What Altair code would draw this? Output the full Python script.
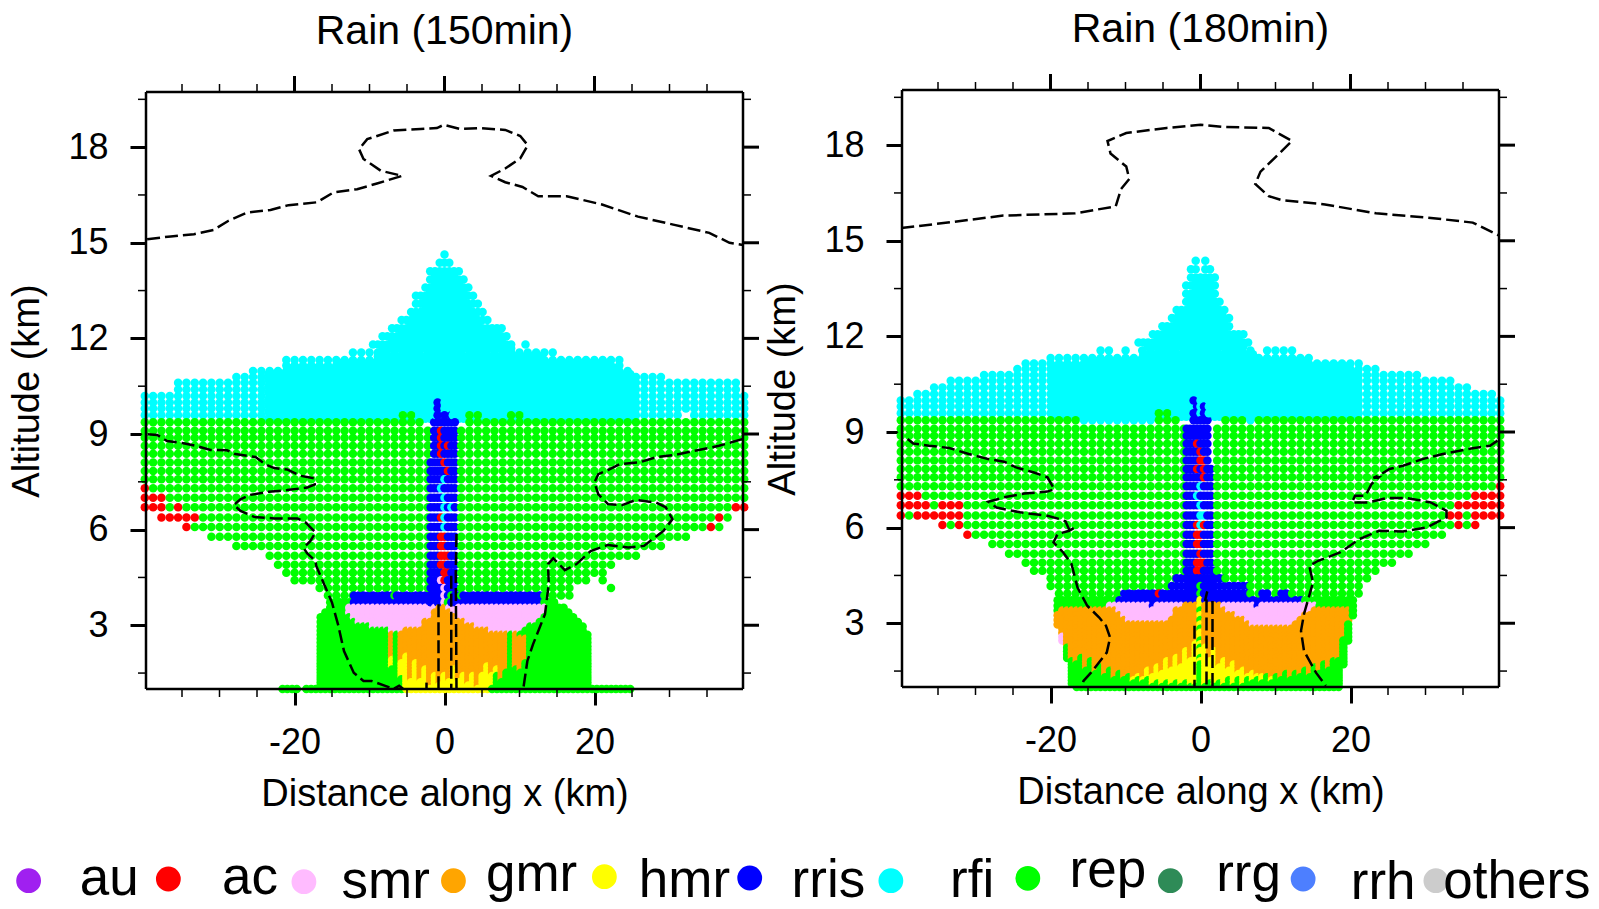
import altair as alt
import pandas as pd

alt.data_transformers.disable_max_rows()

FONT = "Liberation Sans"
NAMES = ["au", "ac", "smr", "gmr", "hmr", "rris", "rfi", "rep", "rrg", "rrh", "others"]
COLORS = ["#a020f0", "#ff0000", "#ffbbff", "#ffa500", "#ffff00", "#0000ff", "#00ffff", "#00ff00", "#2e8b57", "#4d7fff", "#cccccc"]
LEGEND_SLOT = [0, 1.0, 1.97, 3.04, 4.12, 5.16, 6.17, 7.15, 8.17, 9.12, 10.07]
LEGEND_RISE = [19.3, 21, 18.3, 19.3, 23.3, 22, 19.3, 21.7, 19.3, 21, 19.3]
LABEL_SLOT = [0.577, 1.584, 2.555, 3.599, 4.693, 5.723, 6.752, 7.723, 8.73, 9.693, 10.65]
LABEL_RISE = [5.3, 6, 2, 9.3, 2.7, 2.7, 3, 12.7, 9.3, 1, 2]

HALF = [0.64, 1.27, 1.91, 2.54, 3.18, 3.81, 4.45, 5.08, 5.72, 6.35, 6.99, 7.62, 8.26, 8.89, 9.53, 10.16, 10.80, 11.43,
        12.07, 12.70, 13.34, 13.97, 14.61, 15.24, 15.88, 16.51, 17.15, 17.78, 18.42, 19.05, 19.69, 20.32, 20.96, 21.59,
        22.23, 22.86, 23.50, 24.13, 24.77, 25.40, 26.04, 26.67, 27.31, 27.94, 28.58, 29.21, 29.85, 30.48, 31.12, 31.75,
        32.39, 33.02, 33.66, 34.29, 34.93, 35.56, 36.20, 36.83, 37.47, 38.10, 38.74, 39.37, 40.0]
COLUMNS = [-c for c in reversed(HALF)] + [0.0] + HALF
WIDE_HALF = [1.11, 2.22, 3.33, 4.44, 5.55, 6.66, 7.77, 8.88, 9.99, 11.10, 12.21, 13.32, 14.43, 15.54, 16.65, 17.76, 18.87, 19.98,
             21.09, 22.20, 23.31, 24.42, 25.53, 26.64, 27.75, 28.86, 29.97, 31.08, 32.19, 33.30, 34.41, 35.52, 36.63, 37.74, 38.85, 39.96]
WIDE_COLUMNS = [-c for c in reversed(WIDE_HALF)] + [0.0] + WIDE_HALF
LOW_LEVELS = [3.72, 3.55, 3.40, 3.25, 3.10, 2.96, 2.83, 2.70, 2.58, 2.46, 2.34, 2.23, 2.12, 2.01, 1.91, 1.81, 1.71, 1.61,
              1.51, 1.41, 1.31, 1.21, 1.11, 1.00]

# ---- rows: level, then (left, right) runs in km ----
A_CYAN = [(14.63, [(0, 0)]), (14.37, [(-.64, .64)]), (14.11, [(-1.6, 2.1)]), (13.85, [(-2.0, 2.6)]), (13.60, [(-2.5, 3.2)]),
          (13.34, [(-3.5, 3.6)]), (13.09, [(-3.5, 4.3)]), (12.83, [(-4.6, 4.8)]), (12.58, [(-5.6, 5.5)]),
          (12.32, [(-6.7, 7.4)]), (12.07, [(-8.0, 8.1)]), (11.81, [(-9.6, 9.0), (11.1, 11.1)]),
          (11.56, [(-12.2, -11.0), (-9.7, 14.5)]), (11.32, [(-21.5, -15.5), (-14.5, 23.0)]), (11.15, [(-21.5, 23.6)]),
          (10.98, [(-25.2, 25.1)]), (10.79, [(-28.0, 29.0)]), (10.61, [(-35.4, 38.7)]), (10.40, [(-35.4, 39.0)]),
          (10.19, [(-40, 40)]), (9.99, [(-40, 40)]), (9.80, [(-40, 40)]), (9.59, [(-40, 31.5), (33.0, 40)])]
A_CORE = [(9.48, -24, 25.5), (9.70, -24, 25.5), (9.90, -24, 25.5), (10.09, -24, 25.5), (10.30, -24, 25.5), (10.50, -24, 25.5),
          (10.70, -24, 25.5), (10.88, -24, 25), (11.07, -21, 23), (11.23, -14, 22), (11.44, -9.5, 13), (11.68, -8.5, 9),
          (11.94, -7.5, 8), (12.20, -6, 7), (12.45, -5, 5), (12.70, -4, 4.3), (12.96, -3, 3.8), (13.22, -3, 3),
          (13.47, -2.2, 2.6), (13.72, -1.8, 2.2), (13.98, -1.3, 1.8)]
A_GREEN = [(9.59, [(-6.0, -4.2), (3.4, 5.0), (9.2, 9.7)]), (9.37, [(-40, -3.2), (3.2, 40)]), (9.10, [(-40, 40)]), (8.88, [(-40, 40)]),
           (8.63, [(-40, 40)]), (8.38, [(-40, 40)]), (8.11, [(-40, 40)]), (7.84, [(-40, 40)]), (7.58, [(-40, 40)]),
           (7.30, [(-40, 40)]), (7.00, [(-40, 40)]), (6.70, [(-40, 40)]), (6.38, [(-37.8, 38.4)]), (6.08, [(-34.2, 36.3)]),
           (5.78, [(-30.9, 32.1)]), (5.49, [(-27.9, 28.9)]), (5.18, [(-24.0, 26.0)]), (4.90, [(-22.3, 22.3)]),
           (4.65, [(-21.4, -21.4), (-19.7, 21.3)]), (4.41, [(-19.7, 18.9), (21.3, 21.3)]), (4.17, [(-16.6, 16.6), (22.2, 22.2)]),
           (3.93, [(-15.5, 16.6)]), (3.72, [(-15.2, 14.7)]), (3.55, [(-15.5, 16.0)]), (3.40, [(-15.9, 16.5)]), (3.25, [(-16.2, 17.0)]),
           (3.10, [(-16.8, 18.0)]), (2.96, [(-16.8, 18.3)]), (2.83, [(-16.8, 18.6)]), (2.70, [(-16.8, 19.0)]), (2.58, [(-16.7, 19.2)]),
           (2.46, [(-16.7, 19.2)]), (2.34, [(-16.7, 19.2)]), (2.23, [(-16.7, 19.2)]), (2.12, [(-16.7, 19.2)]), (2.01, [(-16.7, 19.2)]),
           (1.91, [(-16.7, 19.2)]), (1.81, [(-16.7, 19.2)]), (1.71, [(-16.7, 19.2)]), (1.61, [(-16.7, 19.2)]), (1.51, [(-16.7, 19.2)]),
           (1.41, [(-16.7, 19.2)]), (1.31, [(-16.7, 19.2)]), (1.21, [(-16.7, 19.2)]), (1.11, [(-16.7, 19.2)]),
           (1.00, [(-21.8, -19.6), (-18.3, 24.5)])]
A_RED = [(7.30, -39.8), (7.00, -39.96), (7.00, -38.85), (7.00, -37.74), (6.70, -39.96), (6.70, -38.85), (6.70, -37.74), (6.70, -35.52),
         (6.38, -37.74), (6.38, -36.63), (6.38, -35.52), (6.38, -34.41), (6.38, -33.3), (6.08, -34.41), (6.70, 38.85), (6.70, 39.96),
         (6.38, 36.63), (6.08, 35.52)]
A_BLUE = [(3.93, -12.1, -6.8), (3.93, -6.2, -1.0), (3.93, 2.8, 12.6), (3.72, -12.1, 12.9)]
A_PINK = [(3.55, -12.6, 13.4), (3.40, -12.6, 13.2), (3.25, -12.2, 13.0), (3.10, -11.3, 12.0), (2.96, -9.5, 11.0), (2.83, -7.0, 10.0)]
A_CENTER = [(10.19, "....c...."), (9.99, "..b......"), (9.80, "..b.c...."), (9.59, "..b.b.b.."), (9.37, ".bbbbbbb."), (9.10, ".bbrbbbb."), (8.88, ".bbrbbbb."),
            (8.63, ".bbrbrbb."), (8.38, ".bbrbbbb."), (8.11, "bbbbrbbb."), (7.84, "bbbbbrbb."), (7.58, "bbbbcbbb."),
            (7.30, "bbbcbbbb."), (7.00, "bbbbcbbb."), (6.70, "bbbbcbcb."), (6.38, "bbbrcbbb."), (6.08, "bbbbcbbb."),
            (5.78, "bbbrrbbb."), (5.49, "bbbrrbbb."), (5.18, "bbbrrrbb."), (4.90, "bbbrrbbb."), (4.65, "bbbbrrbb."),
            (4.41, "bbbprbbb."), (4.17, "bbbbpbbb."), (3.93, "bbbbpbgbb"), (3.72, "bbbbpgbbb")]
A_COL_START = -6.99
A_OTOP = [2.75, 2.75, 2.8, 2.85, 2.85, 2.9, 2.95, 3.1, 3.2, 3.4, 3.6, 3.7, 3.5, 3.35, 3.2, 3.1, 3.05, 3.0, 2.95, 2.9, 2.85, 2.8, 2.75, 2.7, 2.7, 2.7, 2.7, 2.65, 2.6]
A_OBOT = [1.7, 9, 1.4, 1.0, 1.0, 1.0, 1.0, 1.0, 1.0, 1.0, 1.0, 1.0, 1.0, 1.0, 1.0, 1.0, 1.0, 1.0, 1.0, 1.0, 1.0, 1.1, 1.5, 1.3, 1.6, 9, 1.7, 1.6, 1.9]
A_YTOP = [2.0, 0, 1.9, 2.1, 1.3, 1.9, 1.3, 1.7, 1.1, 1.5, 1.2, 1.5, 1.3, 1.7, 1.3, 1.5, 1.2, 1.5, 1.1, 1.5, 1.8, 1.5, 1.7, 0, 0, 0, 0, 0, 0]

B_CYAN = [(14.37, [(-.64, -.64), (.64, .64)]), (14.11, [(-1.27, -.64), (.64, 1.27)]), (13.85, [(-1.1, 2.0)]), (13.60, [(-1.6, 2.0)]),
          (13.34, [(-2.0, 1.7)]), (13.09, [(-2.2, 2.4)]), (12.83, [(-3.1, 3.1)]), (12.58, [(-4.1, 4.0)]), (12.32, [(-5.1, 3.5)]),
          (12.07, [(-6.6, 5.5)]), (11.81, [(-8.1, 6.6)]), (11.56, [(-13.5, -12.0), (-10.4, -10.4), (-8.4, 7.1), (8.6, 12.0)]),
          (11.32, [(-20.0, 15.0)]), (11.15, [(-23.0, 20.7)]), (10.98, [(-24.2, 24.0)]), (10.79, [(-28.9, 28.7)]), (10.61, [(-33.0, 34.0)]),
          (10.40, [(-35.3, 35.3)]), (10.19, [(-37.4, 39.0)]), (9.99, [(-40, 40)]), (9.80, [(-40, 40)]), (9.59, [(-40, 40)]),
          (9.37, [(-16.0, -6.4), (6.2, 7.3)])]
B_CORE = [(9.48, -20, 21), (9.70, -20, 21), (9.90, -20, 21), (10.09, -20, 21), (10.30, -20, 21), (10.50, -20, 21), (10.70, -20, 21),
          (10.88, -20, 21), (11.07, -20, 20), (11.23, -15, 14), (11.44, -8, 7), (11.68, -7.5, 6.2), (11.94, -6, 5.5), (12.20, -4.6, 3.3),
          (12.45, -3.8, 3.3), (12.70, -2.6, 2.8), (12.96, -1.9, 2), (13.22, -1.6, 1.6), (13.47, -1.2, 1.7), (13.72, -.9, 1.7)]
B_GREEN = [(9.59, [(-5.5, -4.4)]), (9.37, [(-40, -16.6), (-5.8, -3.2), (2.9, 5.6), (7.9, 40)]), (9.10, [(-40, 40)]), (8.88, [(-40, 40)]),
           (8.63, [(-40, 40)]), (8.38, [(-40, 40)]), (8.11, [(-40, 40)]), (7.84, [(-40, 40)]), (7.58, [(-40, 40)]), (7.30, [(-40, 40)]),
           (7.00, [(-40, 40)]), (6.70, [(-40, 40)]), (6.38, [(-40, 39.7)]), (6.08, [(-34.0, 36.5)]), (5.78, [(-30.6, 32.8)]),
           (5.49, [(-27.7, 29.9)]), (5.18, [(-25.9, 27.8)]), (4.90, [(-24.0, 25.7)]), (4.65, [(-22.2, 23.8)]), (4.41, [(-20.5, 22.7)]),
           (4.17, [(-19.6, 21.2)]), (3.93, [(-18.9, 20.7)]), (3.72, [(-18.9, 20.5)]), (3.55, [(-18.9, 20.5)]), (3.40, [(-18.8, 20.3)]),
           (3.25, [(-18.8, 20.1)]), (3.10, [(-18.7, 19.8)]), (2.96, [(-18.7, 19.6)]), (2.83, [(-18.4, 19.6)]), (2.70, [(-18.2, 19.5)]),
           (2.58, [(-18.1, 19.4)]), (2.46, [(-18.0, 19.4)]), (2.34, [(-17.9, 19.3)]), (2.23, [(-17.8, 19.2)]), (2.12, [(-17.7, 19.1)]),
           (2.01, [(-17.6, 19.1)]), (1.91, [(-17.5, 19.0)]), (1.81, [(-17.4, 18.9)]), (1.71, [(-17.3, 18.8)]), (1.61, [(-17.2, 18.7)]),
           (1.51, [(-17.1, 18.6)]), (1.41, [(-17.1, 18.6)]), (1.31, [(-17.1, 18.6)]), (1.21, [(-17.1, 18.6)]), (1.11, [(-17.1, 18.6)]),
           (1.00, [(-16.7, 18.3)])]
B_RED = [(7.00, -39.96), (7.00, -38.85), (7.00, -37.74), (6.70, -39.96), (6.70, -38.85), (6.70, -37.74), (6.70, -36.63), (6.70, -34.41), (6.70, -33.3), (6.70, -32.19),
         (6.38, -39.96), (6.38, -37.74), (6.38, -36.63), (6.38, -35.52), (6.38, -34.41), (6.38, -33.3), (6.38, -32.19), (6.08, -34.41), (6.08, -32.19), (5.78, -31.08),
         (7.30, 39.96), (7.00, 36.63), (7.00, 37.74), (7.00, 38.85), (7.00, 39.96), (6.70, 34.41), (6.70, 35.52), (6.70, 36.63), (6.70, 37.74), (6.70, 38.85), (6.70, 39.96),
         (6.38, 33.3), (6.38, 34.41), (6.38, 36.63), (6.38, 37.74), (6.38, 38.85), (6.38, 39.96), (6.08, 34.41), (6.08, 36.63), (3.93, -5.3)]
B_BLUE = [(4.41, -3.2, 3.0), (4.17, -3.5, 6.2), (3.93, -10.4, -5.9), (3.93, -4.9, 6.2), (3.93, 8.0, 9.1), (3.93, 10.7, 11.5),
          (3.72, -10.6, 13.3), (3.55, -6.4, -6.4), (3.55, 7.5, 7.5)]
B_PINK = [(3.55, -12.0, 15.2), (3.40, -12.0, 15.2), (3.25, -19.05, -19.05), (3.25, -12.0, 15.0), (3.10, -19.05, -19.05), (3.10, -11.5, 14.0),
          (2.96, -19.05, -19.05), (2.96, -10.5, 13.0), (2.83, -9.0, 12.0), (2.58, -18.42, -18.42), (2.46, -18.42, -18.42)]
B_CENTER = [(9.99, "..b......"), (9.80, "...b.b..."), (9.59, "..bb.bb.."), (9.37, "..bbbbb.."), (9.10, "bbbbbbb.."), (8.88, "bbbbbbb.."),
            (8.63, "bbbrbbb.."), (8.38, "bbbbrbb.."), (8.11, "bbbbrrb.."), (7.84, "bbbrbrbb."), (7.58, "bbbbbrbb."), (7.30, "bbbbcbbb."),
            (7.00, "bbbcbbbb."), (6.70, "bbbbcbbb."), (6.38, "bbbbccbb."), (6.08, "bbbrcrbb."), (5.78, "bbbrrbbb."), (5.49, "bbbrrbbb."),
            (5.18, "bbbbrbbb."), (4.90, "bbbrrrbb."), (4.65, "bbbrrbbbb"), (4.41, "bbbbbbbbb"), (4.17, "bbbbgbbbb"), (3.93, "bbbbgbbbb"),
            (3.72, "....y...."), (3.55, "....y...."), (3.40, "....g...."), (3.25, "....y...."), (3.10, "....g...."), (2.96, "....y...."),
            (2.83, "....g...."), (2.70, "....y...."), (2.58, "....y...."), (2.46, "....g...."), (2.34, "....y...."), (2.23, "....g...."),
            (2.12, "....y...."), (2.01, "....y...."), (1.91, "....g...."), (1.81, "....y...."), (1.71, "....g...."), (1.61, "....g...."),
            (1.51, "....g...."), (1.41, "....g...."), (1.31, "....g...."), (1.21, "....g...."), (1.11, "....g...."), (1.00, "....g....")]
B_COL_START = -19.05
B_OTOP = [3.3, 3.4, 3.44, 3.44, 3.44, 3.44, 3.44, 3.44, 3.44, 3.44, 3.44, 3.44, 3.42, 3.38, 3.22, 3.08, 3.02, 2.98, 2.97, 2.97, 2.98, 3.0, 3.02,
          3.04, 3.2, 3.4, 3.5, 3.55, 3.62, 3.65, 0, 3.65, 3.62, 3.6, 3.58, 3.45, 3.35, 3.28, 3.18, 3.1, 3.0, 2.95, 2.9, 2.88, 2.87, 2.87, 2.88,
          2.88, 2.9, 2.92, 2.98, 3.1, 3.25, 3.36, 3.44, 3.44, 3.44, 3.44, 3.44, 3.44, 3.44, 3.4]
B_OBOT = [2.9, 2.6, 2.25, 1.9, 1.75, 1.95, 1.6, 1.85, 1.5, 1.7, 1.4, 1.6, 1.3, 1.5, 1.25, 1.4, 1.2, 1.3, 1.15, 1.25, 1.1, 1.2, 1.1, 1.2, 1.1, 1.2,
          1.1, 1.15, 1.1, 1.1, 9, 1.1, 1.2, 1.1, 1.2, 1.1, 1.25, 1.1, 1.25, 1.1, 1.3, 1.15, 1.3, 1.15, 1.35, 1.2, 1.4, 1.25, 1.45, 1.3, 1.5, 1.35, 1.55,
          1.4, 1.65, 1.5, 1.75, 1.6, 1.9, 1.85, 2.5, 3.0]
B_YTOP = [0, 0, 0, 0, 0, 0, 0, 0, 0, 0, 0, 0, 0, 0, 0, 1.2, 1.3, 1.4, 1.3, 1.55, 1.4, 1.7, 1.5, 1.85, 1.6, 2.0, 1.7, 2.15, 1.9, 2.4, 0, 2.3, 1.9,
          2.2, 1.7, 1.9, 1.55, 1.75, 1.45, 1.6, 1.4, 1.5, 1.35, 1.4, 0, 1.3, 0, 0, 0, 0, 0, 0, 0, 0, 0, 0, 0, 0, 0, 0, 0, 0]

# ---- dashed contour, segments of (km, altitude) ----
A_TOP = [(-39.65, 15.11), (-36.5, 15.20), (-33.4, 15.27), (-30.8, 15.40), (-28.8, 15.69), (-26.3, 15.95), (-23.2, 16.03), (-20.8, 16.18),
         (-17.0, 16.27), (-14.8, 16.58), (-11.65, 16.68), (-9.0, 16.86), (-5.65, 17.10), (-8.5, 17.26), (-10.8, 17.63), (-11.4, 17.94),
         (-10.3, 18.25), (-6.8, 18.52), (-3.2, 18.57), (-1.0, 18.60), (-0.1, 18.70), (2.1, 18.57), (4.7, 18.6), (8.1, 18.54), (10.1, 18.35),
         (11.1, 18.06), (10.1, 17.65), (8.1, 17.33), (6.2, 17.1), (8.1, 16.9), (10.4, 16.75), (12.5, 16.46), (16.3, 16.46), (21.0, 16.2),
         (25.8, 15.82), (30.5, 15.57), (35.3, 15.31), (38.0, 15.0), (39.8, 14.93)]
A_LEFT = [(-39.6, 8.99), (-38.3, 8.97), (-37, 8.78), (-34.8, 8.71), (-33.2, 8.63), (-31.2, 8.5), (-29, 8.49), (-27.9, 8.37), (-25.2, 8.28),
          (-23.9, 8.05), (-22.7, 7.93), (-21, 7.89), (-19.2, 7.69), (-17.4, 7.61), (-17.3, 7.42), (-18.3, 7.32), (-21, 7.24), (-23.4, 7.19),
          (-25.9, 7.09), (-27.2, 6.95), (-28.1, 6.77), (-27.2, 6.59), (-25.4, 6.4), (-22.7, 6.35), (-19.6, 6.35), (-18.5, 6.22), (-17.2, 5.91),
          (-17.9, 5.64), (-18.8, 5.43), (-18.3, 5.25), (-17.2, 5.02), (-17.1, 4.86), (-16.05, 4.29), (-15, 3.71), (-14.2, 3.03), (-13.4, 2.19),
          (-12.1, 1.51), (-10.8, 1.25), (-9.7, 1.25), (-7.9, 1.1), (-6.8, 1.0), (-6.05, 1.1), (-5.5, 1.0)]
A_RIGHT = [(39.7, 8.84), (36.6, 8.63), (33.9, 8.5), (30.8, 8.35), (28.2, 8.27), (26, 8.11), (23.4, 8.06), (21.8, 7.87), (20.5, 7.74), (20, 7.48),
           (20.5, 7.11), (21.8, 6.8), (23.7, 6.77), (25.5, 6.93), (28.2, 6.85), (29.5, 6.7), (30.4, 6.33), (29.2, 5.96), (26.6, 5.49), (24.5, 5.44),
           (21.8, 5.52), (19.5, 5.33), (17.6, 4.92), (16.05, 4.73), (14.5, 5.1), (13.8, 4.92), (13.9, 4.29), (13.4, 3.35), (11.8, 2.4),
           (11.05, 1.88), (10.5, 1.0)]
A_IN1 = [(-2.4, 1.0), (-2.4, 1.2)]
A_IN2 = [(-0.8, 3.66), (-0.8, 1.0)]
A_IN3 = [(0.9, 4.55), (0.9, 1.0)]
A_IN4 = [(1.6, 5.86), (1.5, 4.6), (1.6, 1.0)]

B_TOP = [(-39.9, 15.4), (-33.7, 15.57), (-26.3, 15.79), (-16.7, 15.86), (-11.3, 16.08), (-10.6, 16.62), (-9.5, 16.94), (-9.9, 17.33), (-12, 17.74),
         (-12.4, 18.13), (-9.9, 18.38), (-4.5, 18.54), (0, 18.64), (3, 18.57), (9.1, 18.54), (12.2, 18.13), (10.5, 17.74), (8, 17.17), (7.3, 16.78),
         (9.1, 16.4), (10.9, 16.27), (16.6, 16.14), (23.4, 15.86), (30.2, 15.73), (36.3, 15.57), (39.9, 15.15)]
B_LEFT = [(-39.05, 8.78), (-38.3, 8.64), (-36.2, 8.57), (-33.5, 8.5), (-30.9, 8.31), (-28.3, 8.15), (-26.2, 8.07), (-24.6, 7.89), (-22.2, 7.73),
          (-20.4, 7.58), (-19.5, 7.21), (-20.4, 7.13), (-23.5, 7.07), (-26.2, 6.95), (-28.3, 6.81), (-27.2, 6.63), (-24.05, 6.48), (-20.4, 6.37),
          (-18.8, 6.27), (-18, 6.2), (-17.5, 5.93), (-16.8, 6.0), (-17.5, 5.9), (-19.05, 5.8), (-19.6, 5.54), (-18.3, 5.22), (-17.2, 4.86),
          (-16.4, 4.12), (-15.1, 3.55), (-13.5, 3.18), (-12.6, 2.92), (-12.05, 2.55), (-12.5, 2.08), (-14.6, 1.45), (-15.6, 1.19), (-15.9, 1.0)]
B_RIGHT = [(39.6, 8.73), (38.6, 8.57), (36.5, 8.5), (32.3, 8.31), (29.6, 8.15), (27, 7.94), (25.2, 7.84), (24.1, 7.68), (23.05, 7.56), (23.8, 7.58),
           (22.8, 7.37), (22, 7.0), (20.6, 7.0), (20.2, 6.79), (22.3, 6.79), (24.9, 6.93), (27.5, 6.93), (30.7, 6.79), (32.8, 6.53), (32.8, 6.32),
           (30.2, 6.01), (27, 5.88), (23.8, 5.9), (21.2, 5.64), (18.6, 5.22), (15.7, 4.96), (14.5, 4.8), (15, 4.28), (13.8, 3.29), (13.4, 2.76),
           (13.8, 2.13), (15.4, 1.45), (16.7, 1.04)]
B_IN1 = [(-0.8, 2.92), (-0.8, 1.0)]
B_IN2 = [(0.6, 3.7), (0.9, 4.0), (0.8, 3.9), (0.8, 1.0)]
B_IN3 = [(1.6, 3.7), (1.6, 1.0)]

X_MAJOR = [-20, 0, 20]
X_MINOR = [-35, -30, -25, -15, -10, -5, 5, 10, 15, 25, 30, 35]
Y_MAJOR = [3, 6, 9, 12, 15, 18]
Y_MINOR = [1.5, 4.5, 7.5, 10.5, 13.5, 16.5, 19.5]
X_LIMITS = [-39.8, 39.8]
Y_LIMITS = [1.0, 19.73]
PANEL_W, PANEL_H = 597, 597

CODE = {"b": "rris", "r": "ac", "c": "rfi", "g": "rep", "p": "smr", "y": "hmr"}
CENTER_COLS = [-1.84, -1.38, -0.92, -0.46, 0.0, 0.46, 0.92, 1.38, 1.84]


def paint(cells, level, lo, hi, cls):
    wide = cls in ("rfi", "rep") and 3.9 <= level <= 11.6
    cols = WIDE_COLUMNS if wide else COLUMNS
    if lo == hi:
        cells[(level, min(cols, key=lambda c: abs(c - lo)))] = cls
        return
    margin = 0.4 if wide else 0.32
    for c in cols:
        if lo - margin <= c <= hi + margin:
            cells[(level, c)] = cls


def nearest(x):
    return min(WIDE_COLUMNS, key=lambda c: abs(c - x))


def points(cyan, core, green, red, blue, pink, center, start, otop, obot, ytop):
    cells = {}
    for lev, runs in cyan:
        for lo, hi in runs:
            paint(cells, lev, lo, hi, "rfi")
    for lev, runs in green:
        for lo, hi in runs:
            paint(cells, lev, lo, hi, "rep")
    for lev, lo, hi in pink:
        paint(cells, lev, lo, hi, "smr")
    i0 = COLUMNS.index(start)
    for k, (t, b, y) in enumerate(zip(otop, obot, ytop)):
        col = COLUMNS[i0 + k]
        for lev in LOW_LEVELS:
            if b <= lev <= t:
                cells[(lev, col)] = "hmr" if lev <= y else "gmr"
    for lev, lo, hi in blue:
        for key in [k for k in cells if k[0] == lev and lo <= k[1] <= hi]:
            del cells[key]
        paint(cells, lev, lo, hi, "rris")
    for lev, x in red:
        cells[(lev, nearest(x))] = "ac"
    for lev, pattern in center:
        if pattern.count("b") >= 5:
            for key in [k for k in cells if k[0] == lev and abs(k[1]) <= 1.9]:
                del cells[key]
        for c, ch in zip(CENTER_COLS, pattern):
            if ch != ".":
                cells[(lev, c)] = CODE[ch]
    rows = [dict(x=c, z=lev, cls=cl, ord=1) for (lev, c), cl in cells.items()]
    for lev, lo, hi in core:
        rows += [dict(x=c, z=lev, cls="rfi", ord=0) for c in COLUMNS if lo <= c <= hi]
    return pd.DataFrame(rows).sort_values(["ord", "x", "z"], ascending=[True, True, False]).drop(columns="ord")


def lines(**segs):
    rows = []
    for name, pts in segs.items():
        rows += [dict(seg=name, i=i, x=x, z=z) for i, (x, z) in enumerate(pts)]
    return pd.DataFrame(rows)


def panel(title, pts, contour):
    xs = alt.Scale(domain=X_LIMITS, nice=False, zero=False)
    ys = alt.Scale(domain=Y_LIMITS, nice=False, zero=False)
    xax = alt.Axis(values=X_MAJOR, title="Distance along x (km)", tickSize=16, tickWidth=3, tickColor="black", domain=False, grid=False,
                   labelFont=FONT, labelFontSize=36, labelColor="black", labelPadding=20, titleFont=FONT, titleFontSize=38,
                   titleFontWeight="normal", titleColor="black", titlePadding=15, labelExpr="'' + datum.value", labelFlush=False)
    yax = alt.Axis(values=Y_MAJOR, title="Altitude (km)", tickSize=16, tickWidth=3, tickColor="black", domain=False, grid=False,
                   labelFont=FONT, labelFontSize=36, labelColor="black", labelPadding=22, titleFont=FONT, titleFontSize=38,
                   titleFontWeight="normal", titleColor="black", titlePadding=21, labelFlush=False)
    dots = alt.Chart(pts).mark_circle(size=72, opacity=1).encode(
        x=alt.X("x:Q", scale=xs, axis=xax),
        y=alt.Y("z:Q", scale=ys, axis=yax),
        color=alt.Color("cls:N", scale=alt.Scale(domain=NAMES, range=COLORS), legend=None),
    )
    dash = alt.Chart(contour).mark_line(color="black", strokeWidth=2.5, strokeDash=[13, 5]).encode(
        x=alt.X("x:Q", scale=xs), y=alt.Y("z:Q", scale=ys), detail="seg:N", order="i:Q")
    layers = [dots, dash]
    xt = pd.DataFrame({"v": X_MINOR})
    xT = pd.DataFrame({"v": X_MAJOR})
    yt = pd.DataFrame({"v": Y_MINOR})
    yT = pd.DataFrame({"v": Y_MAJOR})
    ex = alt.X("v:Q", scale=xs)
    ey = alt.Y("v:Q", scale=ys)
    layers += [
        alt.Chart(xt).mark_rule(color="black", strokeWidth=1.5).encode(x=ex, y=alt.value(0), y2=alt.value(-8)),
        alt.Chart(xT).mark_rule(color="black", strokeWidth=3).encode(x=ex, y=alt.value(0), y2=alt.value(-16)),
        alt.Chart(xt).mark_rule(color="black", strokeWidth=1.5).encode(x=ex, y=alt.value(PANEL_H), y2=alt.value(PANEL_H + 8)),
        alt.Chart(yt).mark_rule(color="black", strokeWidth=1.5).encode(y=ey, x=alt.value(0), x2=alt.value(-8)),
        alt.Chart(yt).mark_rule(color="black", strokeWidth=1.5).encode(y=ey, x=alt.value(PANEL_W), x2=alt.value(PANEL_W + 8)),
        alt.Chart(yT).mark_rule(color="black", strokeWidth=3).encode(y=ey, x=alt.value(PANEL_W), x2=alt.value(PANEL_W + 16)),
        alt.Chart(pd.DataFrame({"v": X_LIMITS})).mark_rule(color="black", strokeWidth=2.5).encode(x=ex),
        alt.Chart(pd.DataFrame({"v": Y_LIMITS})).mark_rule(color="black", strokeWidth=2.5).encode(y=ey),
    ]
    return alt.layer(*layers).properties(
        width=PANEL_W, height=PANEL_H,
        title=alt.TitleParams(title, font=FONT, fontSize=41, fontWeight="normal", color="black", offset=22, anchor="middle"),
    )


pts_a = points(A_CYAN, A_CORE, A_GREEN, A_RED, A_BLUE, A_PINK, A_CENTER, A_COL_START, A_OTOP, A_OBOT, A_YTOP)
pts_b = points(B_CYAN, B_CORE, B_GREEN, B_RED, B_BLUE, B_PINK, B_CENTER, B_COL_START, B_OTOP, B_OBOT, B_YTOP)
con_a = lines(top=A_TOP, left=A_LEFT, right=A_RIGHT, i1=A_IN1, i2=A_IN2, i3=A_IN3, i4=A_IN4)
con_b = lines(top=B_TOP, left=B_LEFT, right=B_RIGHT, i1=B_IN1, i2=B_IN2, i3=B_IN3)

spacer = alt.Chart(pd.DataFrame({"v": [0]})).mark_rule(opacity=0).encode(x=alt.value(0), y=alt.value(0)).properties(width=PANEL_W, height=1)
left = alt.vconcat(spacer, panel("Rain (150min)", pts_a, con_a), spacing=1, bounds="flush")
right = panel("Rain (180min)", pts_b, con_b)
top = alt.hconcat(left, right, spacing=3)

LEG_W, LEG_H = 1445, 65
lx = alt.Scale(domain=[0.84, 11.18], nice=False, zero=False)
ly = alt.Scale(domain=[0, LEG_H], nice=False, zero=False)
leg_df = pd.DataFrame({"name": NAMES, "slot": LEGEND_SLOT, "rise": LEGEND_RISE, "lslot": LABEL_SLOT, "lrise": LABEL_RISE})
leg_dots = alt.Chart(leg_df).mark_circle(size=616, opacity=1).encode(
    x=alt.X("slot:Q", scale=lx, axis=None), y=alt.Y("rise:Q", scale=ly, axis=None),
    color=alt.Color("name:N", scale=alt.Scale(domain=NAMES, range=COLORS), legend=None))
leg_text = alt.Chart(leg_df).mark_text(font=FONT, fontSize=53, align="center", baseline="alphabetic", color="black").encode(
    x=alt.X("lslot:Q", scale=lx, axis=None), y=alt.Y("lrise:Q", scale=ly, axis=None), text="name:N")
legend = alt.layer(leg_dots, leg_text).properties(width=LEG_W, height=LEG_H)

chart = alt.vconcat(top, legend, spacing=22).resolve_scale(color="independent").configure(
    padding=0, background="white").configure_view(stroke=None).configure_concat(spacing=0)
chart.save("out.html", embed_options={"renderer": "svg", "actions": False})
